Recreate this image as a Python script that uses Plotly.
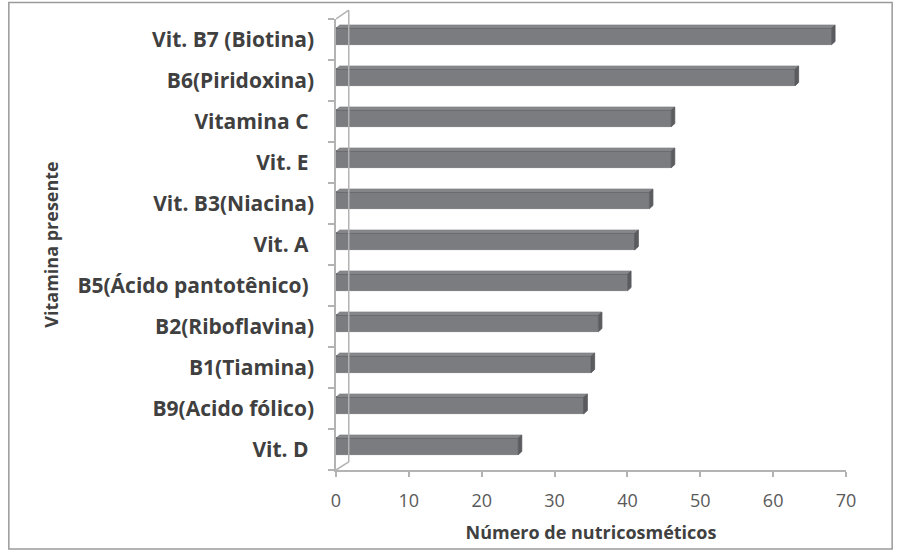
import plotly.graph_objects as go

# Vitamins found in the nutricosmetic products, listed bottom-to-top
vitaminas = [
    "Vit. D\u00a0",
    "B9(Acido fólico)",
    "B1(Tiamina)",
    "B2(Riboflavina)",
    "B5(Ácido pantotênico)\u00a0",
    "Vit. A\u00a0",
    "Vit. B3(Niacina)",
    "Vit. E\u00a0",
    "Vitamina C\u00a0",
    "B6(Piridoxina)",
    "Vit. B7 (Biotina)",
]
contagens = [25, 34, 35, 36, 40, 41, 43, 46, 46, 63, 68]
x_ticks = [0, 10, 20, 30, 40, 50, 60, 70]

FONT = "Open Sans"
TEXT = "#404040"
AXIS = "#b3b3b3"
FACE = "#7b7c80"
TOP = "#86878b"
SIDE = "#5b5c60"

# pseudo-3D geometry (in data units)
bar_w = 0.40      # front face thickness (category units)
bar_off = -0.13   # front face lower edge relative to category centre
dep_x = 0.5       # depth drawn to the right (value units)
dep_y = 0.08      # depth drawn upward (category units)

fig = go.Figure()
fig.add_trace(go.Bar(
    y=vitaminas,
    x=contagens,
    orientation="h",
    width=bar_w,
    offset=bar_off,
    marker=dict(color=FACE, line=dict(color="#6c6d71", width=0.8)),
    hoverinfo="x+y",
))

shapes = []
for i, v in enumerate(contagens):
    y0 = i + bar_off
    y1 = y0 + bar_w
    # top face
    shapes.append(dict(
        type="path", xref="x", yref="y", layer="above",
        path=f"M 0,{y1} L {v},{y1} L {v + dep_x},{y1 + dep_y} L {dep_x},{y1 + dep_y} Z",
        fillcolor=TOP, line=dict(color="#646569", width=0.8),
    ))
    # right side face
    shapes.append(dict(
        type="path", xref="x", yref="y", layer="above",
        path=f"M {v},{y0} L {v},{y1} L {v + dep_x},{y1 + dep_y} L {v + dep_x},{y0 + dep_y} Z",
        fillcolor=SIDE, line=dict(color="#55565a", width=0.8),
    ))

# back wall edges of the 3D frame
wall_x = 1.75
top_y = 1.0195
bot_y = 0.018
shapes += [
    dict(type="line", xref="x", yref="paper", x0=wall_x, x1=wall_x, y0=bot_y, y1=top_y,
         line=dict(color=AXIS, width=1.5)),
    dict(type="line", xref="x", yref="paper", x0=0, x1=wall_x, y0=1.0, y1=top_y,
         line=dict(color=AXIS, width=1.5)),
    dict(type="line", xref="x", yref="paper", x0=0, x1=wall_x, y0=0, y1=bot_y,
         line=dict(color=AXIS, width=1.5)),
    # outer chart frame
    dict(type="rect", xref="paper", yref="paper", x0=-0.6415, x1=1.0905, y0=-0.1753, y1=1.0364,
         line=dict(color="#9a9a9a", width=1.5), fillcolor="rgba(0,0,0,0)", layer="below"),
]

fig.update_layout(
    width=899,
    height=552,
    margin=dict(l=335.5, r=53, t=19.4, b=82),
    paper_bgcolor="white",
    plot_bgcolor="white",
    showlegend=False,
    bargap=0,
    shapes=shapes,
    font=dict(family=FONT, color=TEXT),
    xaxis=dict(
        range=[0, 70],
        tickvals=x_ticks,
        ticktext=[str(t) for t in x_ticks],
        showgrid=False,
        zeroline=False,
        showline=True,
        linecolor=AXIS,
        linewidth=1.5,
        ticks="outside",
        ticklen=5,
        tickwidth=1.5,
        tickcolor=AXIS,
        ticklabelstandoff=9,
        tickfont=dict(family=FONT, size=18, color="#595959"),
        title=dict(text="<b>Número de nutricosméticos</b>",
                   font=dict(family=FONT, size=18, color=TEXT), standoff=15),
    ),
    yaxis=dict(
        type="category",
        categoryorder="array",
        categoryarray=vitaminas,
        range=[-0.5, 10.5],
        showgrid=False,
        zeroline=False,
        showline=True,
        linecolor=AXIS,
        linewidth=1.5,
        ticks="outside",
        tickson="boundaries",
        ticklen=6,
        tickwidth=1.5,
        tickcolor=AXIS,
        ticklabelstandoff=16,
        tickfont=dict(family=FONT, size=21, color=TEXT, weight="bold"),
        title=dict(text="<b>Vitamina presente</b>",
                   font=dict(family=FONT, size=18, color=TEXT), standoff=14),
    ),
)

fig.write_html("out.html")
